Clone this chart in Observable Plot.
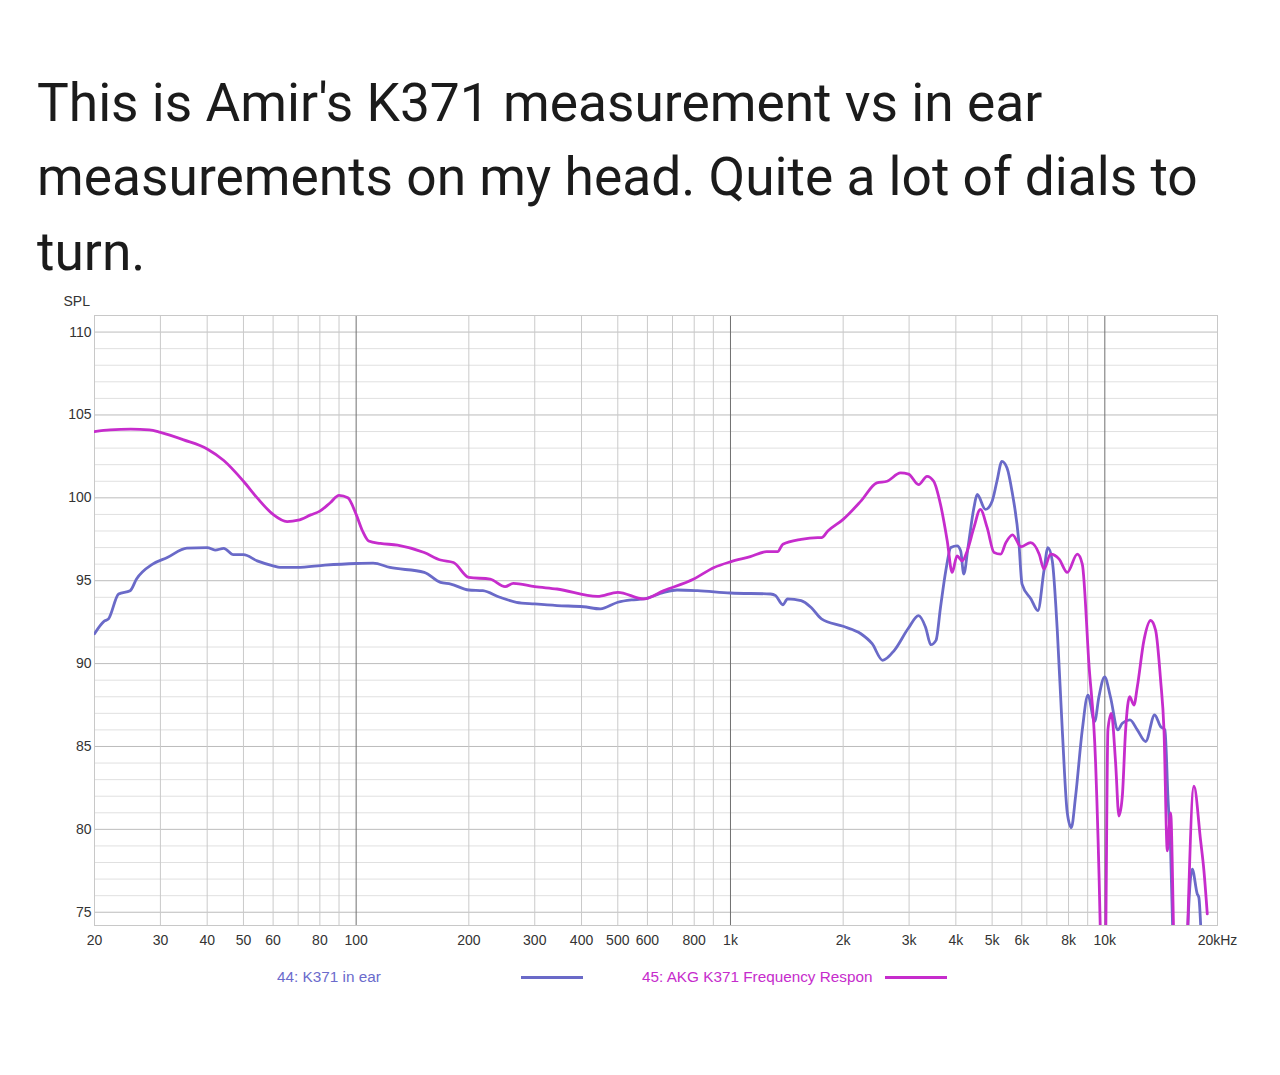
<!DOCTYPE html>
<html>
<head>
<meta charset="utf-8">
<script src="https://cdn.jsdelivr.net/npm/d3@7"></script>
<script src="https://cdn.jsdelivr.net/npm/@observablehq/plot@0.6"></script>
<style>
  body { margin: 0; background: #fff; width: 1280px; height: 1075px; position: relative; overflow: hidden; }
  #title {
    position: absolute; left: 37px; top: 66px;
    font-family: Roboto, "Noto Sans", sans-serif; font-size: 53.3px; line-height: 74.3px;
    color: #1b1b1b;
  }
  #chart { position: absolute; left: 0; top: 290px; }
  .leg { position: absolute; font-family: "Liberation Sans", Arial, sans-serif; font-size: 15.3px; line-height: 18px; top: 968px; white-space: nowrap; }
  .sw { position: absolute; height: 3px; top: 976px; }
</style>
</head>
<body>
<div id="title">This is Amir's K371 measurement vs in ear<br>measurements on my head. Quite a lot of dials to<br>turn.</div>
<div id="chart"></div>
<div class="leg" style="left:277px;color:#6b6bcc">44: K371 in ear</div>
<div class="sw" style="left:521px;width:62px;background:#6a6ac8"></div>
<div class="leg" style="left:642px;color:#c62ccc">45: AKG K371 Frequency Respon</div>
<div class="sw" style="left:885px;width:62px;background:#c62ccc"></div>
<script>
// 44: K371 in ear
const hzInEar = [20, 21.2, 21.8, 23.2, 24.9, 25.9, 28.6, 31.3, 35.3, 40, 42, 44.3, 47, 50, 54.4, 60, 62.6, 69.6, 82.5, 100,
  111, 123, 152, 168, 179, 200, 218, 242, 268, 300, 344, 405, 449, 500, 544, 587, 664, 720, 816, 1000,
  1280, 1320, 1380, 1420, 1544, 1640, 1750, 2000, 2230, 2390, 2550, 2740, 2980, 3180, 3320, 3430, 3540, 3640, 3760, 3880,
  4030, 4120, 4200, 4310, 4470, 4560, 4800, 5000, 5150, 5310, 5480, 5650, 5890, 6010, 6350, 6626, 6877, 7048, 7238, 7465,
  7698, 7938, 8137, 8355, 8706, 9012, 9392, 9644, 9988, 10350, 10840, 11137, 11670, 12213, 12854, 13583, 14094, 14475, 14742, 14990,
  15220, 15800, 16300, 16600, 17124, 17660, 17830, 18130];
const splInEar = [91.8, 92.55, 92.7, 94.2, 94.4, 95.1, 96.0, 96.4, 96.97, 97.0, 96.85, 96.95, 96.57, 96.57, 96.2, 95.9, 95.8, 95.8, 95.94, 96.04,
  96.06, 95.8, 95.5, 94.9, 94.8, 94.44, 94.4, 94.0, 93.7, 93.6, 93.5, 93.43, 93.3, 93.7, 93.84, 93.9, 94.3, 94.44, 94.4, 94.26,
  94.2, 94.1, 93.55, 93.9, 93.8, 93.4, 92.7, 92.25, 91.8, 91.2, 90.2, 90.8, 92.1, 92.9, 92.2, 91.14, 91.4, 93.4, 95.6, 97.0,
  97.1, 96.8, 95.4, 97.0, 99.4, 100.2, 99.3, 99.8, 101.0, 102.2, 101.8, 100.4, 97.4, 94.8, 93.9, 93.2, 95.6, 97.0, 96.2, 92.0,
  86.0, 81.0, 80.1, 82.0, 86.0, 88.1, 86.5, 88.0, 89.2, 88.0, 86.0, 86.4, 86.6, 86.0, 85.3, 86.9, 86.2, 86.0, 82.0, 78.7,
  73.0, 66, 66, 73.0, 77.6, 76.1, 75.9, 73.0];

// 45: AKG K371 Frequency Response
const hzAmir = [20, 22, 25, 28, 30, 34.6, 40, 44.3, 50, 54.4, 60, 65.4, 70, 75.6, 80, 85.4, 90, 95, 100, 104,
  108, 116, 129, 152, 168, 182, 200, 228, 250, 263, 300, 344, 441, 500, 587, 664, 798, 904, 1000, 1130,
  1250, 1336, 1380, 1544, 1710, 1750, 1820, 2000, 2230, 2460, 2620, 2846, 2990, 3180, 3350, 3490, 3640, 3794, 3910, 4030,
  4160, 4290, 4470, 4650, 4850, 5060, 5270, 5440, 5670, 5970, 6336, 6680, 6877, 7166, 7550, 7938, 8443, 8706, 9067, 9449,
  9745, 9870, 10050, 10192, 10408, 10687, 10906, 11137, 11365, 11648, 11960, 12213, 12720, 13256, 13670, 14094, 14390, 14690, 14990, 15300,
  15800, 16300, 16600, 17300, 18030, 18400, 18780];
const splAmir = [104.0, 104.1, 104.15, 104.1, 103.95, 103.5, 102.95, 102.25, 101.0, 100.0, 99.0, 98.57, 98.65, 98.97, 99.2, 99.72, 100.15, 100.0, 99.0, 98.0,
  97.4, 97.25, 97.15, 96.7, 96.25, 96.1, 95.2, 95.1, 94.64, 94.84, 94.64, 94.5, 94.05, 94.3, 93.9, 94.4, 95.1, 95.8, 96.14, 96.45,
  96.75, 96.75, 97.2, 97.5, 97.6, 97.6, 98.0, 98.7, 99.8, 100.9, 101.0, 101.5, 101.43, 100.8, 101.3, 101.0, 99.6, 97.4, 95.5, 96.5,
  96.2, 96.8, 98.2, 99.3, 98.2, 96.7, 96.6, 97.3, 97.77, 97.05, 97.3, 96.6, 95.7, 96.6, 96.3, 95.5, 96.6, 96.0, 90.0, 84.0,
  73.0, 66, 73.0, 86.0, 87.0, 84.0, 80.8, 82.0, 86.0, 88.0, 87.5, 88.6, 91.4, 92.6, 92.0, 89.0, 86.0, 78.7, 81.0, 73.0,
  66, 66, 73.0, 82.6, 79.3, 77.5, 74.9];

// axes
const tickHz = [20, 30, 40, 50, 60, 80, 100, 200, 300, 400, 500, 600, 800, 1000, 2000, 3000, 4000, 5000, 6000, 8000, 10000, 20000];
const tickLabels = ["20", "30", "40", "50", "60", "80", "100", "200", "300", "400", "500", "600", "800", "1k", "2k", "3k", "4k", "5k", "6k", "8k", "10k", "20kHz"];
const minorHz = [30, 40, 50, 60, 70, 80, 90, 200, 300, 400, 500, 600, 700, 800, 900, 2000, 3000, 4000, 5000, 6000, 7000, 8000, 9000];
const decadeHz = [100, 1000, 10000];
const majorDb = [75, 80, 85, 90, 95, 100, 105, 110];
const minorDb = d3.range(75, 111).filter(d => d % 5 != 0);

const inEar = hzInEar.map((f, i) => ({hz: f, spl: splInEar[i]}));
const amir = hzAmir.map((f, i) => ({hz: f, spl: splAmir[i]}));
const xTicks = tickHz.map((f, i) => ({hz: f, label: tickLabels[i]}));

const chart = Plot.plot({
  width: 1280,
  height: 670,
  marginLeft: 94,
  marginRight: 63,
  marginTop: 25,
  marginBottom: 35,
  x: { type: "log", domain: [20, 20000], axis: null },
  y: { domain: [74.2, 111] },
  style: { fontFamily: "'Liberation Sans', Arial, sans-serif", fontSize: "14px", color: "#333", background: "#fff" },
  marks: [
    Plot.ruleY(minorDb, { stroke: "#e0e0e0" }),
    Plot.ruleY(majorDb, { stroke: "#bcbcbc" }),
    Plot.ruleX(minorHz, { stroke: "#cacaca" }),
    Plot.ruleX(decadeHz, { stroke: "#707070" }),
    Plot.frame({ stroke: "#c8c8c8" }),
    Plot.line(inEar, { x: "hz", y: "spl", stroke: "#6a6ac8", strokeWidth: 2.8, curve: "monotone-x", clip: true }),
    Plot.line(amir, { x: "hz", y: "spl", stroke: "#c62ccc", strokeWidth: 2.8, curve: "monotone-x", clip: true }),
    Plot.axisY({ ticks: majorDb, tickSize: 0, tickPadding: 3, label: null }),
    Plot.text(xTicks, { x: "hz", text: "label", frameAnchor: "bottom", dy: 19, fontSize: 14, fill: "#333" }),
    Plot.text(["SPL"], { frameAnchor: "top-left", dx: -31, dy: -19, fontSize: 14, fill: "#333" })
  ]
});

d3.select("#chart").append(() => chart);
</script>
</body>
</html>
